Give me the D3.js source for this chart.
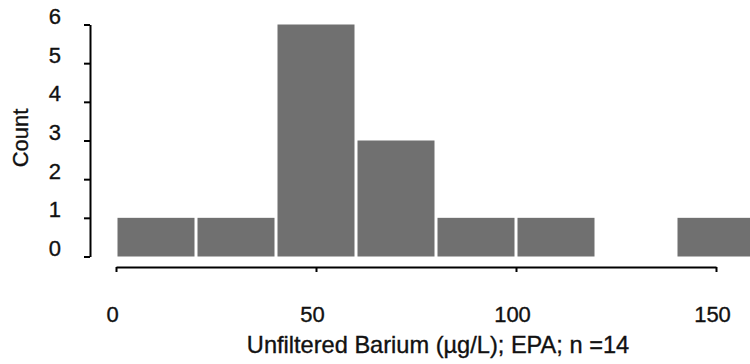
<!DOCTYPE html>
<html>
<head>
<meta charset="utf-8">
<script src="https://cdn.jsdelivr.net/npm/d3@7"></script>
<style>
  html, body { margin: 0; padding: 0; background: #fff; }
  svg { display: block; }
  text { font-family: "Liberation Sans", Arial, sans-serif; fill: #111; stroke: #111; stroke-width: 0.35px; }
</style>
</head>
<body>
<svg id="chart" width="750" height="364"></svg>
<script>
const binStarts = [0, 20, 40, 60, 80, 100, 120, 140];
const binWidth = 20;
const counts = [1, 1, 6, 3, 1, 1, 0, 1];
const yTicks = [0, 1, 2, 3, 4, 5, 6];
const xTicks = [0, 50, 100, 150];
const xTitle = "Unfiltered Barium (\u00b5g/L); EPA; n =14";
const yTitle = "Count";

const svg = d3.select("#chart");

const x = d3.scaleLinear().domain([0, 160]).range([116, 756]);
const y = d3.scaleLinear().domain([0, 6]).range([256.5, 24.5]);

// bars
svg.append("g").selectAll("rect")
  .data(binStarts.map((s, i) => ({ s, c: counts[i] })).filter(d => d.c > 0))
  .join("rect")
  .attr("x", d => x(d.s) + 1.5)
  .attr("width", d => x(d.s + binWidth) - x(d.s) - 3)
  .attr("y", d => y(d.c))
  .attr("height", d => y(0) - y(d.c))
  .attr("fill", "#707070");

// y axis
const yAxis = d3.axisLeft(y).tickValues(yTicks).tickFormat(d3.format("d"))
  .tickSize(6).tickSizeOuter(0).tickPadding(23);
const gy = svg.append("g").attr("transform", "translate(90,0)").call(yAxis);
gy.select(".domain").attr("stroke", "#000").attr("stroke-width", 2);
gy.selectAll(".tick line").attr("stroke", "#000").attr("stroke-width", 2);
gy.selectAll(".tick text").attr("font-size", 22).attr("dy", "-0.05em")
  .style("font-family", "'Liberation Sans', Arial, sans-serif").attr("fill", "#111");

// x axis
const xAxisScale = x.copy().domain([0, 150]).range([x(0), x(150)]);
const xAxis = d3.axisBottom(xAxisScale).tickValues(xTicks).tickFormat(d3.format("d"))
  .tickSize(5).tickSizeOuter(0).tickPadding(34);
const gx = svg.append("g").attr("transform", "translate(0,267)").call(xAxis);
gx.select(".domain").attr("stroke", "#000").attr("stroke-width", 2);
gx.selectAll(".tick line").attr("stroke", "#000").attr("stroke-width", 2);
gx.selectAll(".tick text").attr("font-size", 22).attr("dx", -4)
  .style("font-family", "'Liberation Sans', Arial, sans-serif").attr("fill", "#111");

// axis titles
svg.append("text")
  .attr("x", 438).attr("y", 353)
  .attr("text-anchor", "middle")
  .attr("font-size", 23.6)
  .text(xTitle);

svg.append("text")
  .attr("transform", "translate(28,138) rotate(-90)")
  .attr("text-anchor", "middle")
  .attr("font-size", 22)
  .text(yTitle);
</script>
</body>
</html>
